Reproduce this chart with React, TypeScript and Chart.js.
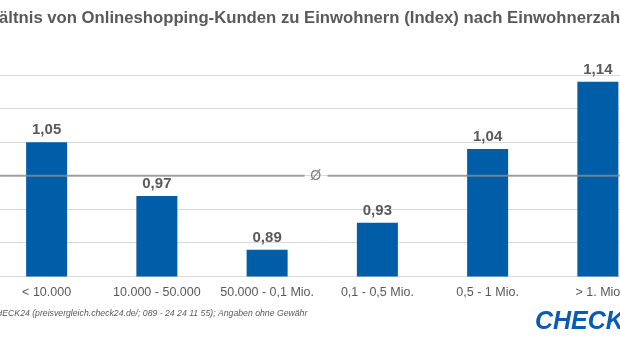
import React, { useEffect, useRef } from "react";
import { Chart, registerables } from "chart.js";

Chart.register(...registerables);

const TITLE = "Verhältnis von Onlineshopping-Kunden zu Einwohnern (Index) nach Einwohnerzahl";
const SOURCE = "Quelle: CHECK24 (preisvergleich.check24.de/; 089 - 24 24 11 55); Angaben ohne Gewähr";
const LOGO = "CHECK24";
const CATEGORIES = ["< 10.000", "10.000 - 50.000", "50.000 - 0,1 Mio.", "0,1 - 0,5 Mio.", "0,5 - 1 Mio.", "> 1. Mio"];
const INDEX_VALUES = [1.05, 0.97, 0.89, 0.93, 1.04, 1.14];
const AVERAGE = 1.0;
const AVERAGE_LABEL = "Ø";
const Y_MIN = 0.85;
const Y_MAX = 1.15;
const Y_STEP = 0.05;

const FONT = "'Liberation Sans', Arial, sans-serif";
const GRAY = "#595959";
const BLUE = "#005ea8";

const CANVAS_W = 720;
const CANVAS_H = 350;
const CANVAS_OFFSET = 50;

const fmt = (v: number) => v.toFixed(2).replace(".", ",");

const overlayPlugin = {
  id: "overlay",
  afterDatasetsDraw(chart: any) {
    const ctx = chart.ctx;
    const meta = chart.getDatasetMeta(0);
    const y = chart.scales.y;
    const x = chart.scales.x;
    const area = chart.chartArea;

    // average line with gap for the label
    const ay = y.getPixelForValue(AVERAGE);
    const step = x.getPixelForValue(1) - x.getPixelForValue(0);
    const lx = x.getPixelForValue(2) + step * 0.44;
    ctx.save();
    ctx.strokeStyle = "rgba(140,140,140,0.8)";
    ctx.lineWidth = 2;
    ctx.beginPath();
    ctx.moveTo(area.left, ay);
    ctx.lineTo(lx - 11, ay);
    ctx.moveTo(lx + 12, ay);
    ctx.lineTo(area.right, ay);
    ctx.stroke();
    ctx.fillStyle = "#7f7f7f";
    ctx.font = `14px ${FONT}`;
    ctx.textAlign = "center";
    ctx.textBaseline = "middle";
    ctx.fillText(AVERAGE_LABEL, lx, ay);

    // value labels
    ctx.fillStyle = GRAY;
    ctx.font = `bold 15px ${FONT}`;
    ctx.textBaseline = "alphabetic";
    meta.data.forEach((bar: any, i: number) => {
      ctx.fillText(fmt(INDEX_VALUES[i]), bar.x, bar.y - 8);
    });
    ctx.restore();
  },
  afterDraw(chart: any) {
    const ctx = chart.ctx;
    ctx.save();
    ctx.fillStyle = GRAY;
    ctx.font = `italic 8.7px ${FONT}`;
    ctx.textAlign = "left";
    ctx.textBaseline = "middle";
    ctx.fillText(SOURCE, 9.8, 314);
    ctx.fillStyle = "#0a5bb5";
    ctx.font = `italic bold 25px ${FONT}`;
    ctx.fillText(LOGO, 585, 322);
    ctx.restore();
  },
};

export default function App() {
  const ref = useRef<HTMLCanvasElement | null>(null);

  useEffect(() => {
    if (!ref.current) return;
    const chart = new Chart(ref.current, {
      type: "bar",
      data: {
        labels: CATEGORIES,
        datasets: [
          {
            data: INDEX_VALUES,
            backgroundColor: BLUE,
            borderWidth: 0,
            barPercentage: 0.372,
            categoryPercentage: 1,
          },
        ],
      },
      options: {
        animation: false,
        responsive: false,
        layout: { padding: { left: 12.9, right: 17, top: 0, bottom: 41.5 } },
        plugins: {
          legend: { display: false },
          tooltip: { enabled: false },
          title: {
            display: true,
            text: TITLE,
            align: "start",
            color: GRAY,
            font: { family: FONT, size: 16.7, weight: "bold" },
            padding: { top: 8, bottom: 47 },
          },
        },
        scales: {
          x: {
            type: "category",
            offset: true,
            grid: { display: false, drawTicks: false },
            border: { display: false },
            ticks: {
              color: GRAY,
              font: { family: FONT, size: 12.5 },
              padding: 8.5,
              maxRotation: 0,
              autoSkip: false,
            },
          },
          y: {
            min: Y_MIN,
            max: Y_MAX,
            ticks: { display: false, stepSize: Y_STEP },
            grid: { color: "#d9d9d9", lineWidth: 1, drawTicks: false },
            border: { display: false },
            afterFit: (scale: any) => {
              scale.width = 28.6;
            },
          },
        },
      },
      plugins: [overlayPlugin],
    });
    return () => chart.destroy();
  }, []);

  return (
    <div
      style={{
        position: "fixed",
        left: 0,
        top: 0,
        width: 620,
        height: 350,
        overflow: "hidden",
        background: "#fff",
      }}
    >
      <canvas
        ref={ref}
        width={CANVAS_W}
        height={CANVAS_H}
        style={{ position: "absolute", left: -CANVAS_OFFSET, top: 0, width: CANVAS_W, height: CANVAS_H }}
      />
    </div>
  );
}
